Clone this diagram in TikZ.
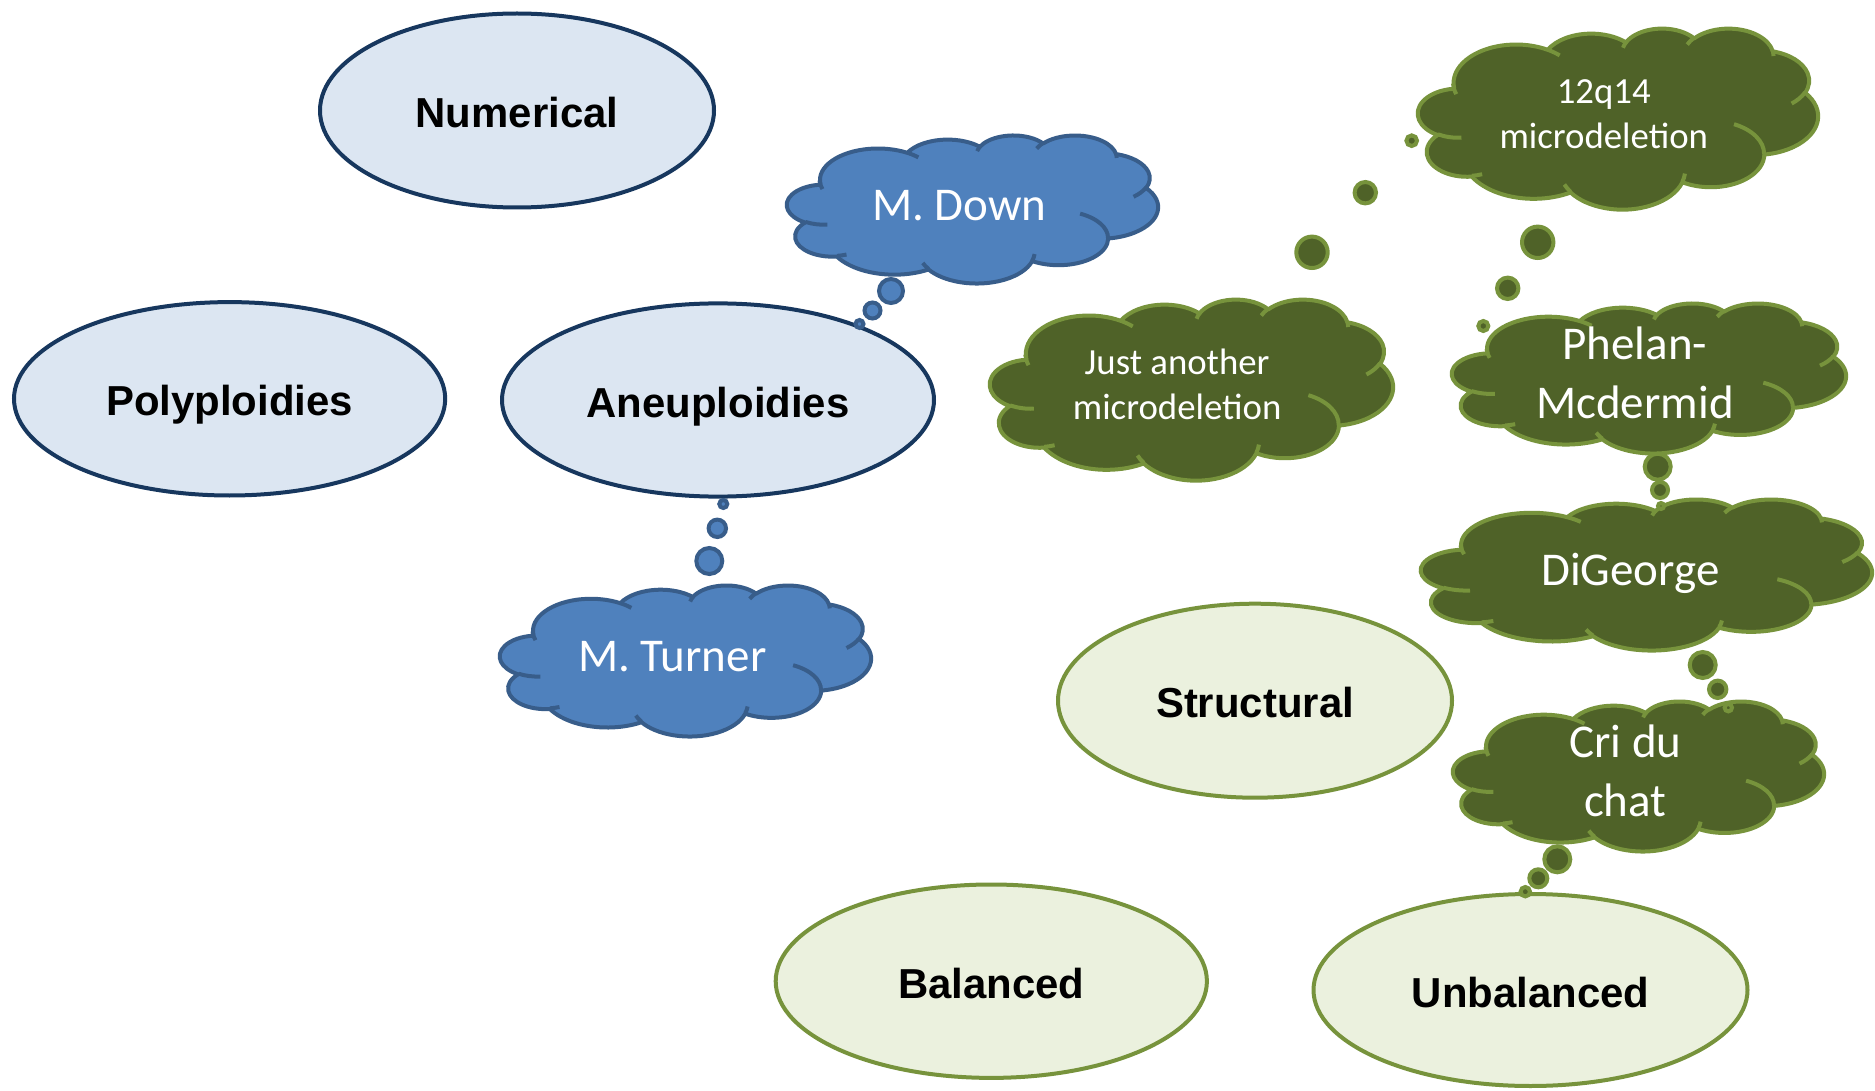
\documentclass[tikz,border=0pt]{standalone}
\usepackage{fontspec}
\setmainfont{Carlito}
\newfontfamily\ellfont{Liberation Sans}
\usetikzlibrary{shapes.geometric}

\definecolor{ellblue}{HTML}{DCE6F2}
\definecolor{ellblueline}{HTML}{17375E}
\definecolor{ellgreen}{HTML}{EBF1DE}
\definecolor{clBfill}{HTML}{4F81BD}
\definecolor{clBline}{HTML}{385D8A}
\definecolor{clGfill}{HTML}{4F6228}
\definecolor{clGline}{HTML}{77933C}

\makeatletter
% arc given with DrawingML "visual" angles -> TikZ parametric angles
\newcommand\mkarc[5]{%
  \pgfmathsetmacro\ts@{atan2((#2)*sin(#4),(#3)*cos(#4))}%
  \pgfmathsetmacro\te@{atan2((#2)*sin((#4)+(#5)),(#3)*cos((#4)+(#5)))}%
  \pgfmathsetmacro\dd@{\te@-\ts@}%
  \pgfmathsetmacro\dd@{((\dd@)-(#5)>180)?((\dd@)-360):((((\dd@)-(#5))<(-180))?((\dd@)+360):(\dd@))}%
  \expandafter\xdef\csname #1\endcsname{arc[x radius=#2, y radius=#3, start angle=\ts@, delta angle=\dd@]}%
}
\makeatother

\mkarc{oA}{6.753}{9.190}{-190.48748}{123.78053}
\mkarc{oB}{5.333}{7.267}{-144.10238}{89.94523}
\mkarc{oC}{4.365}{5.945}{-145.80792}{99.72302}
\mkarc{oD}{4.857}{6.595}{-130.98607}{117.24173}
\mkarc{oE}{5.333}{7.273}{-78.70888}{109.02692}
\mkarc{oF}{6.775}{9.220}{-46.26725}{130.26900}
\mkarc{oG}{5.785}{7.867}{0.62502}{114.03333}
\mkarc{oH}{6.752}{9.215}{22.45160}{115.17255}
\mkarc{oI}{7.720}{10.543}{66.24263}{75.71102}
\mkarc{oJ}{4.360}{5.918}{-274.94208}{146.73557}
\mkarc{oK}{4.345}{5.945}{-246.82850}{152.51885}

\mkarc{cA}{4.345}{5.945}{86.74200}{26.42950}
\mkarc{cB}{4.360}{5.918}{73.61047}{11.44747}
\mkarc{cC}{6.752}{9.215}{137.62415}{14.08110}
\mkarc{cD}{6.752}{9.215}{6.45327}{15.99835}
\mkarc{cE}{5.785}{7.867}{-70.29235}{70.91737}
\mkarc{cF}{5.333}{7.273}{30.31803}{27.75150}
\mkarc{cG}{4.857}{6.595}{-13.74433}{14.85890}
\mkarc{cH}{4.857}{6.595}{-149.18145}{18.19537}
\mkarc{cI}{4.365}{5.945}{-163.49427}{17.68635}
\mkarc{cJ}{6.753}{9.190}{-66.70695}{12.31935}
\mkarc{cK}{6.753}{9.190}{155.63533}{21.33500}

\def\cloudoutline{(3.900,14.370) \oA{} \oB{} \oC{} \oD{} \oE{} \oF{} \oG{} \oH{} \oI{} \oJ{} \oK{} -- cycle}
\def\cloudcreases{(4.693,26.177) \cA{} (6.928,34.899) \cB{} (16.478,39.090) \cC{} (28.827,34.751) \cD{} (34.129,22.954) \cE{} (41.798,15.354) \cF{} (38.324,5.426) \cG{} (29.078,3.952) \cH{} (22.141,4.720) \cI{} (14.000,5.192) \cJ{} (4.127,15.789) \cK{}}

\newcommand\bigcf{\fontsize{23.5pt}{28.67pt}\selectfont}
\newcommand\smallcf{\fontsize{18.4pt}{22.45pt}\selectfont}
\newcommand\ls{\rule[-0.3em]{0pt}{1.22em}}

\tikzset{
  ell/.style={ellipse, line width=2pt, inner sep=0pt,
    font=\ellfont\bfseries\fontsize{20.95pt}{25pt}\selectfont,
    text height=17pt, text depth=0pt},
  ellB/.style={ell, draw=ellblueline, fill=ellblue},
  ellG/.style={ell, draw=clGline, fill=ellgreen},
  cloudtext/.style={text=white, align=center, inner sep=0pt},
  bubB/.style={circle, inner sep=0pt, line width=2pt, draw=clBline, fill=clBfill, minimum size=#1},
  bubG/.style={circle, inner sep=0pt, line width=2pt, draw=clGline, fill=clGfill, minimum size=#1},
}

\newcommand\mycloud[8]{%
  \begin{scope}[shift={(#2,#3)}, xscale=#4/43.2, yscale=#5/43.2]
    \path[line width=2pt, line join=round, fill=cl#6fill, draw=cl#6line] \cloudoutline;
    \path[line width=2pt, draw=cl#6line] \cloudcreases;
  \end{scope}
  \node[cloudtext, font=#7] (#1) at ({#2+0.4644*#4}, {#3+0.4768*#5}) {#8};
}

\begin{document}
\begin{tikzpicture}[x=0.5pt, y=-0.5pt]
\useasboundingbox (0,0) rectangle (1875,1091);
\fill[white] (0,0) rectangle (1875,1091);

% ellipses
\node[ellB, minimum width=197pt, minimum height=97pt] (numerical) at (517,110.5) {Numerical};
\node[ellB, minimum width=215.6pt, minimum height=96.7pt] (polyploidies) at (229.6,398.8) {Polyploidies};
\node[ellB, minimum width=216pt, minimum height=96.6pt] (aneuploidies) at (718,400) {Aneuploidies};
\node[ellG, minimum width=197pt, minimum height=97pt] (structural) at (1255,700.7) {Structural};
\node[ellG, minimum width=215.6pt, minimum height=96.7pt] (balanced) at (991.3,981.2) {Balanced};
\node[ellG, minimum width=217pt, minimum height=96pt] (unbalanced) at (1530.5,990) {Unbalanced};

% clouds
\mycloud{mdown}{787}{135}{371}{148}{B}{\bigcf}{\ls M. Down}
\mycloud{mturner}{500}{585}{371}{151}{B}{\bigcf}{\ls M. Turner}
\mycloud{micro12}{1418}{28}{400}{181}{G}{\smallcf}{\ls 12q14\\\ls microdeletion}
\mycloud{justanother}{990}{299}{403}{181}{G}{\smallcf}{\ls Just another\\\ls microdeletion}
\mycloud{phelan}{1452}{303}{394}{150}{G}{\bigcf}{\ls Phelan-\\\ls Mcdermid}
\mycloud{digeorge}{1421}{499}{451}{151}{G}{\bigcf}{\ls DiGeorge}
\mycloud{cri}{1453}{701}{371}{150}{G}{\bigcf}{\ls Cri du\\\ls chat}

% thought bubbles
\node[bubB=12pt] (b1) at (891,291) {};
\node[bubB=8pt] (b2) at (872.5,310.5) {};
\node[bubB=4pt] (b3) at (859.5,324) {};
\node[bubB=4pt] (b4) at (723.3,504) {};
\node[bubB=8.7pt] (b5) at (717.3,528.3) {};
\node[bubB=13pt] (b6) at (709.3,561) {};

\node[bubG=5.3pt] (g1) at (1411.7,140.7) {};
\node[bubG=10.7pt] (g2) at (1365.3,192.7) {};
\node[bubG=15.7pt] (g3) at (1312,252.3) {};
\node[bubG=15.7pt] (g4) at (1537.7,242.3) {};
\node[bubG=10.7pt] (g5) at (1507.7,288.3) {};
\node[bubG=5pt] (g6) at (1483.3,326) {};
\node[bubG=13pt] (g7) at (1657.7,466.7) {};
\node[bubG=8pt] (g8) at (1660,490) {};
\node[bubG=3pt] (g9) at (1661,506) {};
\node[bubG=13pt] (g10) at (1702.7,665) {};
\node[bubG=8.7pt] (g11) at (1717.7,689.3) {};
\node[bubG=3.7pt] (g12) at (1728.3,707.7) {};
\node[bubG=13pt] (g13) at (1557.3,859.3) {};
\node[bubG=9pt] (g14) at (1538.3,878.3) {};
\node[bubG=4.7pt] (g15) at (1525.3,891.7) {};
\end{tikzpicture}
\end{document}
